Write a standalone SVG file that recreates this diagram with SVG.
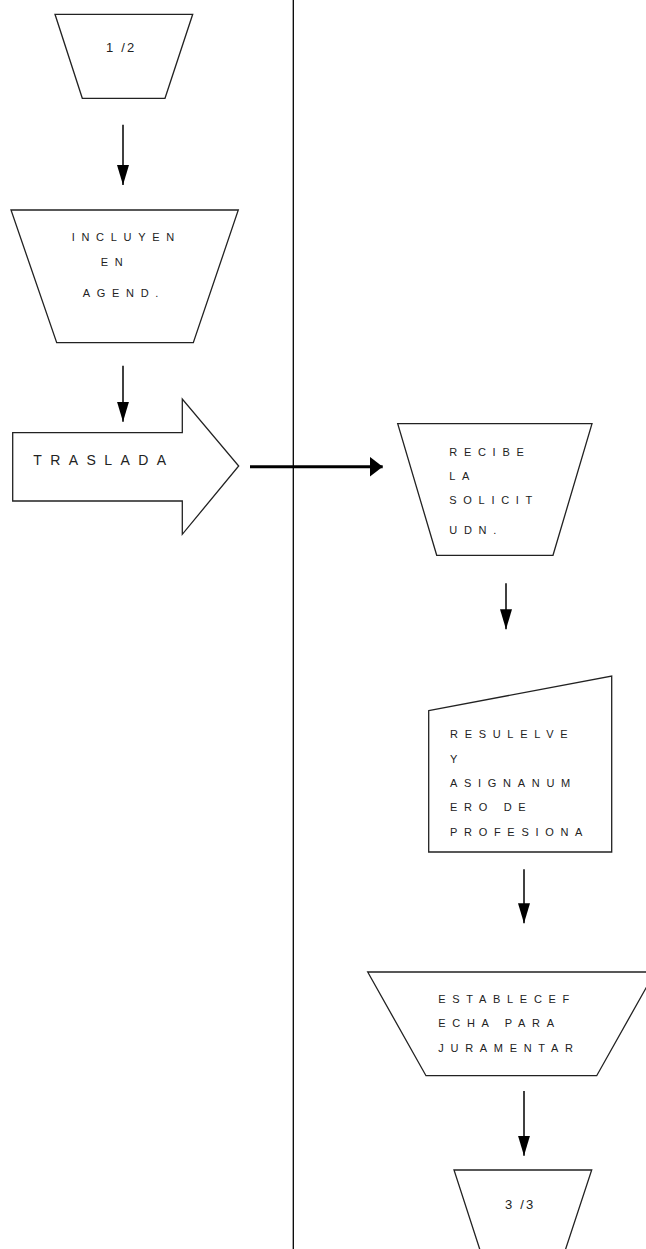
<svg xmlns="http://www.w3.org/2000/svg" width="646" height="1249" viewBox="0 0 646 1249">
<style>
.shape{fill:#fff;stroke:#222;stroke-width:1.3;stroke-linejoin:miter}
.t{font-family:"Liberation Sans",Arial,sans-serif;font-size:11px;fill:#222;letter-spacing:6.7px}
.n{font-family:"Liberation Sans",Arial,sans-serif;font-size:13px;fill:#222;letter-spacing:2.2px}
.big{font-family:"Liberation Sans",Arial,sans-serif;font-size:14px;fill:#222;letter-spacing:8.4px}
.c{stroke:#000;stroke-width:1.5;fill:none}
.ch{stroke:#000;stroke-width:3;fill:none}
</style>
<defs>
<marker id="ah" markerUnits="userSpaceOnUse" markerWidth="20" markerHeight="12" refX="20" refY="6" orient="auto"><path d="M0,0 L20,6 L0,12 z" fill="#000"/></marker>
<marker id="ahh" markerUnits="userSpaceOnUse" markerWidth="13" markerHeight="20" refX="13" refY="10" orient="auto"><path d="M0,0 L13,10 L0,20 z" fill="#000"/></marker>
</defs>
<rect width="646" height="1249" fill="#fff"/>
<line x1="293.3" y1="0" x2="293.3" y2="1249" stroke="#000" stroke-width="1.3"/>
<g id="n1">
<polygon class="shape" points="55,14.3 192.7,14.3 165,98.3 82.3,98.3"/>
<text class="n" x="106" y="52.3">1 /2</text>
</g>
<g id="n2">
<polygon class="shape" points="11,210 238.3,210 193.3,342.7 56.7,342.7"/>
<text class="t" x="71.7" y="240.7">INCLUYEN</text>
<text class="t" x="100.7" y="266">EN</text>
<text class="t" x="82.7" y="296.7">AGEND.</text>
</g>
<g id="n3">
<polygon class="shape" points="12.7,432.7 182.3,432.7 182.3,399 238.7,466 182.3,534.3 182.3,501 12.7,501"/>
<text class="big" x="33.3" y="465">TRASLADA</text>
</g>
<g id="n4">
<polygon class="shape" points="397.7,423.7 592,423.7 553,555.3 436.7,555.3"/>
<text class="t" x="449.3" y="455.7">RECIBE</text>
<text class="t" x="449.3" y="480">LA</text>
<text class="t" x="449.3" y="504">SOLICIT</text>
<text class="t" x="449.3" y="534">UDN.</text>
</g>
<g id="n5">
<polygon class="shape" points="428.7,710.7 611.7,676 611.7,852 428.7,852"/>
<text class="t" x="450" y="738.3">RESULELVE</text>
<text class="t" x="450" y="762.7">Y</text>
<text class="t" x="450" y="786.7">ASIGNANUM</text>
<text class="t" x="450" y="810.7">ERO DE</text>
<text class="t" x="450" y="835.7">PROFESIONA</text>
</g>
<g id="n6">
<polygon class="shape" points="367.7,972 655,972 596.7,1075.7 426,1075.7"/>
<text class="t" x="438.3" y="1002.7">ESTABLECEF</text>
<text class="t" x="438.3" y="1027.3">ECHA PARA</text>
<text class="t" x="438.3" y="1051.7">JURAMENTAR</text>
</g>
<g id="n7">
<polygon class="shape" points="454,1170 591.7,1170 564,1254 481.3,1254"/>
<text class="n" x="505" y="1209">3 /3</text>
</g>
<g id="connectors">
<line class="c" x1="123" y1="124.7" x2="123" y2="185" marker-end="url(#ah)"/>
<line class="c" x1="123" y1="365.7" x2="123" y2="421.7" marker-end="url(#ah)"/>
<line class="ch" x1="250" y1="466.7" x2="382.7" y2="466.7" marker-end="url(#ahh)"/>
<line class="c" x1="506" y1="583.3" x2="506" y2="629.3" marker-end="url(#ah)"/>
<line class="c" x1="524" y1="869.3" x2="524" y2="923.3" marker-end="url(#ah)"/>
<line class="c" x1="524" y1="1091" x2="524" y2="1155.7" marker-end="url(#ah)"/>
</g>
</svg>
